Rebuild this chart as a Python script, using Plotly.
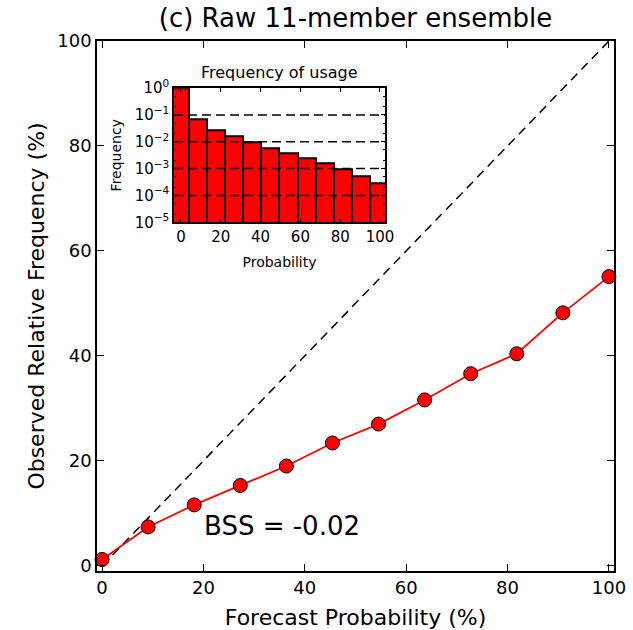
import plotly.graph_objects as go

# Data
forecast_prob = [0, 9.09, 18.18, 27.27, 36.36, 45.45, 54.55, 63.64, 72.73, 81.82, 90.91, 100]
observed_freq = [1.2, 7.4, 11.6, 15.3, 19.0, 23.4, 27.0, 31.6, 36.6, 40.4, 48.2, 55.1]
usage_freq = [0.9, 0.066, 0.026, 0.0144, 0.0087, 0.0053, 0.0035, 0.0022, 0.0015, 0.0009, 0.00049, 0.00027]
diag = [0, 100]
inset_xrange = [-3.5, 102.5]
inset_yticks = [1e-5, 1e-4, 1e-3, 1e-2, 1e-1, 1e0]
inset_yticktext = ["10<sup>\u22125</sup>", "10<sup>\u22124</sup>", "10<sup>\u22123</sup>",
                   "10<sup>\u22122</sup>", "10<sup>\u22121</sup>", "10<sup>0</sup>"]
grid_levels = [1e-1, 1e-2, 1e-3, 1e-4]
bss_text = "BSS = -0.02"

FONT = "DejaVu Sans"

fig = go.Figure()
fig.add_trace(go.Scatter(x=diag, y=diag, mode="lines",
                         line=dict(color="black", width=1.5, dash="9px,6px"),
                         xaxis="x", yaxis="y", showlegend=False, hoverinfo="skip"))
fig.add_trace(go.Scatter(x=forecast_prob, y=observed_freq, mode="lines+markers",
                         line=dict(color="red", width=1.8),
                         marker=dict(color="red", size=14, line=dict(color="black", width=1)),
                         xaxis="x", yaxis="y", showlegend=False, cliponaxis=False))
fig.add_trace(go.Bar(x=forecast_prob, y=usage_freq, width=9.09,
                     marker=dict(color="red", line=dict(color="black", width=1.8)),
                     xaxis="x2", yaxis="y2", showlegend=False))
for lv in grid_levels:
    fig.add_trace(go.Scatter(x=inset_xrange, y=[lv, lv], mode="lines",
                             line=dict(color="black", width=1.5, dash="9px,5px"),
                             xaxis="x2", yaxis="y2", showlegend=False, hoverinfo="skip"))

axis_common = dict(showline=True, linecolor="black", linewidth=1.5, mirror="allticks",
                   ticks="inside", ticklen=7, tickcolor="black", showgrid=False, zeroline=False,
                   automargin=False)

fig.update_layout(
    width=633, height=630,
    margin=dict(l=97, r=19, t=41, b=59),
    paper_bgcolor="white", plot_bgcolor="white",
    font=dict(family=FONT, color="black"),
    title=dict(text="(c) Raw 11-member ensemble", x=0.5616, xanchor="center",
               y=0.972, yanchor="middle", font=dict(size=26, family=FONT)),
    xaxis=dict(domain=[0, 1], range=[-1, 101], tickvals=[0, 20, 40, 60, 80, 100],
               tickfont=dict(size=18), title=dict(text="Forecast Probability (%)", font=dict(size=22), standoff=13),
               anchor="y", **axis_common),
    yaxis=dict(domain=[0, 1], range=[-1, 100], tickvals=[0, 20, 40, 60, 80, 100],
               tickfont=dict(size=18), title=dict(text="Observed Relative Frequency (%)", font=dict(size=22), standoff=7),
               anchor="x", **axis_common),
    xaxis2=dict(domain=[0.149, 0.557], range=inset_xrange, tickvals=[0, 20, 40, 60, 80, 100],
                tickfont=dict(size=15), title=dict(text="Probability", font=dict(size=14), standoff=12),
                anchor="y2", showline=True, linecolor="black", linewidth=1.5, mirror="allticks",
                ticks="inside", ticklen=4, tickcolor="black", showgrid=False, zeroline=False, automargin=False),
    yaxis2=dict(domain=[0.658, 0.911], type="log", range=[-5, 0], tickvals=inset_yticks,
                ticktext=inset_yticktext, tickfont=dict(size=15),
                title=dict(text="Frequency", font=dict(size=14), standoff=10),
                anchor="x2", showline=True, linecolor="black", linewidth=1.5, mirror="allticks",
                ticks="inside", ticklen=4, tickcolor="black", showgrid=False, zeroline=False, automargin=False,
                minor=dict(ticks="inside", ticklen=2, tickcolor="black", showgrid=False)),
    bargap=0,
    annotations=[
        dict(text="Frequency of usage", xref="x2 domain", yref="paper", x=0.5, y=0.941,
             xanchor="center", yanchor="middle", showarrow=False, font=dict(size=16)),
        dict(text=bss_text, xref="x", yref="y", x=19.7, y=7.6, xanchor="left", yanchor="middle",
             showarrow=False, font=dict(size=26)),
    ],
)

fig.write_html("out.html", config={"displayModeBar": False},
               post_script="document.body.style.margin='0';document.body.style.padding='0';")
